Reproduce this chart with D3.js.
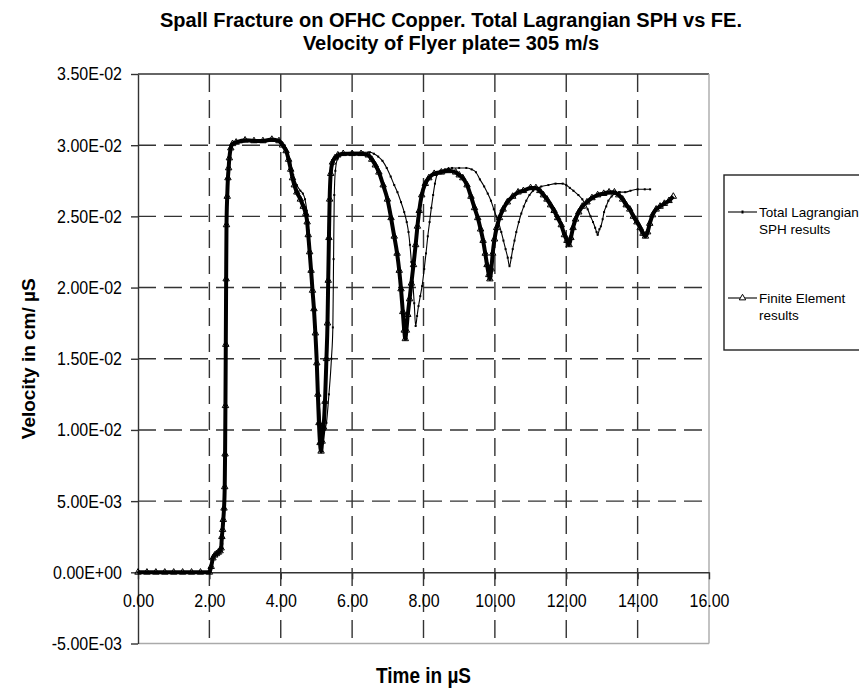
<!DOCTYPE html>
<html>
<head>
<meta charset="utf-8">
<script src="https://cdn.jsdelivr.net/npm/d3@7"></script>
<style>
  body { margin: 0; background: #fff; }
  text { font-family: "Liberation Sans", Arial, sans-serif; fill: #000; }
  .tall { transform-box: fill-box; transform-origin: center; transform: scaleY(1.15); }
</style>
</head>
<body>
<div id="chart-area"></div>
<script>
// titles and labels
const titleLines = ["Spall Fracture on OFHC Copper. Total Lagrangian SPH vs FE.", "Velocity of Flyer plate= 305 m/s"]
const xTitle = "Time in \u00b5S"
const yTitle = "Velocity in cm/ \u00b5S"
const legendLines = [["Total Lagrangian", "SPH results"], ["Finite Element", "results"]]

// ticks
const timeTicks = [0, 2, 4, 6, 8, 10, 12, 14, 16]
const velTicks = [-0.005, 0, 0.005, 0.01, 0.015, 0.02, 0.025, 0.03, 0.035]

// Total Lagrangian SPH (time in uS, velocity in cm/uS)
const sphTime = [0, 0.5, 1.0, 1.5, 2.0, 2.05, 2.1, 2.2, 2.3, 2.36, 2.40, 2.43, 2.45, 2.46, 2.47,
  2.49, 2.52, 2.56, 2.62, 2.7, 2.9, 3.2, 3.5, 3.8, 3.98, 4.08, 4.18, 4.27, 4.35, 4.45, 4.55, 4.62, 4.68, 4.73, 4.78,
  4.83, 4.88, 4.93, 4.98, 5.03, 5.08, 5.13, 5.18, 5.23, 5.28, 5.35, 5.42, 5.46, 5.48, 5.50, 5.53, 5.6, 5.75, 6.0, 6.3,
  6.5, 6.61, 6.73, 6.85, 6.97, 7.08, 7.18, 7.27, 7.37, 7.46, 7.53, 7.58, 7.62, 7.66, 7.70, 7.74, 7.78, 7.82, 7.86, 7.91,
  7.96, 8.02, 8.07, 8.12, 8.17, 8.22, 8.27, 8.32, 8.39, 8.47, 8.6, 8.8, 9.0, 9.2, 9.35, 9.47, 9.58, 9.7, 9.8, 9.89,
  9.97, 10.04, 10.11, 10.18, 10.24, 10.3, 10.36, 10.41, 10.46, 10.5, 10.55, 10.6, 10.67, 10.74, 10.81, 10.88, 10.97, 11.07, 11.2, 11.3,
  11.5, 11.7, 11.9, 12.0, 12.1, 12.2, 12.34, 12.45, 12.52, 12.6, 12.68, 12.75, 12.81, 12.85, 12.88, 12.93, 12.97, 13.02, 13.06, 13.12,
  13.18, 13.27, 13.37, 13.5, 13.65, 13.8, 14.0, 14.2, 14.35]
const sphVel = [0, 0, 0, 0, 0, 0.0003, 0.0009, 0.0012, 0.0014, 0.0020, 0.0040, 0.0070, 0.0150, 0.0191, 0.0230,
  0.0262, 0.0280, 0.0291, 0.0298, 0.0301, 0.0302, 0.0303, 0.0303, 0.0303, 0.0302, 0.0300, 0.0295, 0.0288, 0.0279, 0.0272, 0.0268, 0.0266, 0.0262, 0.0254, 0.0240,
  0.0224, 0.0205, 0.0185, 0.0163, 0.0140, 0.0118, 0.0103, 0.0098, 0.0100, 0.0105, 0.0125, 0.0150, 0.0172, 0.0220, 0.0265, 0.0282, 0.0291, 0.0294, 0.0295, 0.0295,
  0.0295, 0.0294, 0.0292, 0.0289, 0.0284, 0.0278, 0.0272, 0.0267, 0.0260, 0.0253, 0.0246, 0.0239, 0.0230, 0.0218, 0.0204, 0.0189, 0.0173, 0.0180, 0.0187, 0.0194,
  0.0201, 0.0213, 0.0224, 0.0236, 0.0246, 0.0256, 0.0265, 0.0273, 0.0280, 0.0282, 0.0283, 0.0284, 0.0284, 0.0284, 0.0283, 0.0281, 0.0276, 0.0271, 0.0266, 0.0261,
  0.0255, 0.0250, 0.0245, 0.0239, 0.0233, 0.0227, 0.0221, 0.0215, 0.0221, 0.0227, 0.0233, 0.0239, 0.0246, 0.0252, 0.0257, 0.0261, 0.0265, 0.0268, 0.0270, 0.0271,
  0.0272, 0.0273, 0.0273, 0.0272, 0.0270, 0.0268, 0.0265, 0.0262, 0.0259, 0.0255, 0.0250, 0.0246, 0.0242, 0.0239, 0.0237, 0.0241, 0.0243, 0.0248, 0.0253, 0.0257,
  0.0261, 0.0264, 0.0266, 0.0267, 0.0267, 0.0268, 0.0269, 0.0269, 0.0269]

// Finite Element
const feTime = [0, 0.25, 0.5, 0.75, 1.0, 1.25, 1.5, 1.75, 2.0, 2.05, 2.10, 2.15, 2.20, 2.25, 2.30,
  2.33, 2.35, 2.37, 2.39, 2.41, 2.43, 2.44, 2.45, 2.46, 2.47, 2.48, 2.50, 2.52, 2.54, 2.56, 2.60, 2.65, 2.75,
  3.0, 3.25, 3.5, 3.75, 3.95, 4.05, 4.15, 4.22, 4.28, 4.33, 4.38, 4.45, 4.55, 4.63, 4.70,
  4.74, 4.77, 4.81, 4.85, 4.89, 4.93, 4.97, 5.01, 5.04, 5.07, 5.10, 5.13, 5.16, 5.20, 5.24, 5.28,
  5.31, 5.33, 5.35, 5.37, 5.40, 5.45, 5.52, 5.60, 5.75, 6.0, 6.25, 6.45, 6.55, 6.65, 6.75, 6.87, 6.99,
  7.09, 7.18, 7.26, 7.32, 7.37, 7.42, 7.46, 7.49, 7.52, 7.56, 7.61, 7.66, 7.72, 7.78, 7.83, 7.88, 7.95,
  8.05, 8.15, 8.3, 8.5, 8.7, 8.9, 9.0, 9.1, 9.22, 9.33, 9.43, 9.52, 9.60, 9.67, 9.73, 9.78, 9.83, 9.86, 9.90, 9.94, 9.99,
  10.05, 10.13, 10.23, 10.35, 10.5, 10.65, 10.8, 11.0, 11.15, 11.26, 11.36, 11.46, 11.56, 11.66, 11.76, 11.86, 11.95,
  12.02, 12.08, 12.13, 12.19, 12.26, 12.35, 12.45, 12.58, 12.72, 12.88, 13.05, 13.2, 13.35, 13.47, 13.58, 13.68, 13.78, 13.88, 13.98,
  14.07, 14.15, 14.22, 14.28, 14.34, 14.42, 14.52, 14.63, 14.75, 14.88, 15.0]
const feVel = [0, 0, 0, 0, 0, 0, 0, 0, 0, 0.0004, 0.0010, 0.0012, 0.0013, 0.0014, 0.0015,
  0.0017, 0.0025, 0.0030, 0.0037, 0.0045, 0.0060, 0.0083, 0.0117, 0.0160, 0.0206, 0.0244, 0.0264, 0.0277, 0.0284, 0.0291, 0.0298, 0.0301, 0.0302,
  0.03035, 0.0303, 0.0303, 0.0304, 0.0303, 0.0300, 0.0296, 0.0290, 0.0283, 0.0277, 0.0272, 0.0267, 0.0262, 0.0257, 0.0252,
  0.0246, 0.0237, 0.0225, 0.0212, 0.0198, 0.0185, 0.0168, 0.0147, 0.0125, 0.0105, 0.0091, 0.0085, 0.0092, 0.0102, 0.0120, 0.0150,
  0.0175, 0.0205, 0.0235, 0.0262, 0.0280, 0.0288, 0.0291, 0.0293, 0.0294, 0.0294, 0.0294, 0.0293, 0.0290, 0.0286, 0.0281, 0.0272, 0.0262,
  0.0249, 0.0236, 0.0224, 0.0212, 0.0199, 0.0183, 0.0170, 0.0164, 0.0170, 0.0181, 0.0192, 0.0203, 0.0216, 0.0230, 0.0243, 0.0254, 0.0265,
  0.0273, 0.0277, 0.0280, 0.0281, 0.0282, 0.0281, 0.0279, 0.0277, 0.0272, 0.0264, 0.0256, 0.0249, 0.0241, 0.0233, 0.0224, 0.0216, 0.0209, 0.0206, 0.0213, 0.0224, 0.0234,
  0.0242, 0.0249, 0.0255, 0.0260, 0.0264, 0.0267, 0.0268, 0.0270, 0.0270, 0.0268, 0.0265, 0.0262, 0.0258, 0.0254, 0.0249, 0.0244, 0.0237,
  0.0233, 0.0230, 0.0235, 0.0242, 0.0248, 0.0253, 0.0257, 0.0260, 0.0263, 0.0265, 0.0266, 0.0267, 0.0267, 0.0265, 0.0262, 0.0258, 0.0255, 0.0250, 0.0246,
  0.0242, 0.0238, 0.0236, 0.0239, 0.0245, 0.0251, 0.0255, 0.0257, 0.0259, 0.0261, 0.0264]

// margins of the plot area
const MARGIN = { LEFT: 138, RIGHT: 150, TOP: 74, BOTTOM: 44.5 }
const W = 859, H = 688
const WIDTH = W - MARGIN.LEFT - MARGIN.RIGHT
const HEIGHT = H - MARGIN.TOP - MARGIN.BOTTOM

const svg = d3.select("#chart-area").append("svg")
  .attr("width", W)
  .attr("height", H)

const g = svg.append("g")
  .attr("transform", `translate(${MARGIN.LEFT}, ${MARGIN.TOP})`)

const x = d3.scaleLinear().domain([0, 16]).range([0, WIDTH])
const y = d3.scaleLinear().domain([-0.005, 0.035]).range([HEIGHT, 0])

// 3.50E-02 style labels
const fmtE = v => {
  const [m, e] = v.toExponential(2).split("e")
  const n = Number(e)
  return m + "E" + (n < 0 ? "-" : "+") + String(Math.abs(n)).padStart(2, "0")
}

// dashed grid
g.selectAll(".vgrid").data(timeTicks.filter(t => t > 0 && t < 16))
  .enter().append("line")
  .attr("x1", d => x(d)).attr("x2", d => x(d))
  .attr("y1", 0).attr("y2", HEIGHT)
  .attr("stroke", "#333").attr("stroke-width", 1.4)
  .attr("stroke-dasharray", "18,8")

g.selectAll(".hgrid").data(velTicks.filter(v => v > 0 && v < 0.035))
  .enter().append("line")
  .attr("x1", 0).attr("x2", WIDTH)
  .attr("y1", d => y(d)).attr("y2", d => y(d))
  .attr("stroke", "#333").attr("stroke-width", 1.4)
  .attr("stroke-dasharray", "18,8")

// plot area border
g.append("line").attr("x1", 0).attr("x2", WIDTH).attr("y1", 0).attr("y2", 0)
  .attr("stroke", "#333").attr("stroke-width", 1.4)
g.append("line").attr("x1", WIDTH).attr("x2", WIDTH).attr("y1", 0).attr("y2", HEIGHT)
  .attr("stroke", "#aaa").attr("stroke-width", 1.4)
g.append("line").attr("x1", 0).attr("x2", WIDTH).attr("y1", HEIGHT).attr("y2", HEIGHT)
  .attr("stroke", "#aaa").attr("stroke-width", 1.4)

// Y axis
const yAxis = g.append("g")
  .call(d3.axisLeft(y).tickValues(velTicks).tickFormat(fmtE).tickSize(7).tickSizeOuter(0).tickPadding(9))
yAxis.select(".domain").attr("stroke", "#333").attr("stroke-width", 1.4)
yAxis.selectAll(".tick line").attr("stroke", "#333").attr("stroke-width", 1.4)
yAxis.selectAll("text").attr("class", "tall")
  .style("font-family", "'Liberation Sans', Arial, sans-serif").style("font-size", "16px").attr("fill", "#000")

// X axis at zero
const xAxis = g.append("g")
  .attr("transform", `translate(0, ${y(0)})`)
  .call(d3.axisBottom(x).tickValues(timeTicks).tickFormat(d3.format(".2f")).tickSize(7).tickSizeOuter(0).tickPadding(16))
xAxis.select(".domain").attr("stroke", "#333").attr("stroke-width", 1.4)
xAxis.selectAll(".tick line").attr("stroke", "#333").attr("stroke-width", 1.4)
xAxis.selectAll("text").attr("class", "tall")
  .style("font-family", "'Liberation Sans', Arial, sans-serif").style("font-size", "16px").attr("fill", "#000")

// series
const sph = sphTime.map((t, i) => ({ t: t, v: sphVel[i] }))
const fe = feTime.map((t, i) => ({ t: t, v: feVel[i] }))

const line = d3.line()
  .x(d => x(d.t))
  .y(d => y(d.v))
  .curve(d3.curveMonotoneX)

// FE - thick with triangles
g.append("path")
  .datum(fe)
  .attr("d", line)
  .attr("fill", "none")
  .attr("stroke", "#000")
  .attr("stroke-width", 4)

const tri = d3.symbol(d3.symbolTriangle, 18)
g.selectAll(".fe-pt").data(fe)
  .enter().append("path")
  .attr("transform", d => `translate(${x(d.t)}, ${y(d.v)})`)
  .attr("d", tri)
  .attr("fill", "none")
  .attr("stroke", "#000")
  .attr("stroke-width", 1)

// SPH - thin with small marks
g.append("path")
  .datum(sph)
  .attr("d", line)
  .attr("fill", "none")
  .attr("stroke", "#000")
  .attr("stroke-width", 1.1)

g.selectAll(".sph-pt").data(sph)
  .enter().append("rect")
  .attr("x", d => x(d.t) - 1)
  .attr("y", d => y(d.v) - 1)
  .attr("width", 2).attr("height", 2)
  .attr("fill", "#000")

// title
svg.selectAll(".title").data(titleLines)
  .enter().append("text")
  .attr("x", 451)
  .attr("y", (d, i) => 27 + i * 23)
  .attr("text-anchor", "middle")
  .attr("font-size", "20px")
  .attr("font-weight", "bold")
  .text(d => d)

// X label
svg.append("text")
  .attr("class", "tall")
  .attr("x", MARGIN.LEFT + WIDTH / 2)
  .attr("y", 682)
  .attr("text-anchor", "middle")
  .attr("font-size", "19px")
  .attr("font-weight", "bold")
  .text(xTitle)

// Y label
svg.append("text")
  .attr("transform", `translate(35, ${MARGIN.TOP + HEIGHT / 2}) rotate(-90)`)
  .attr("text-anchor", "middle")
  .attr("font-size", "19px")
  .attr("font-weight", "bold")
  .text(yTitle)

// legend
const legend = svg.append("g")
legend.append("rect")
  .attr("x", 724).attr("y", 175)
  .attr("width", 140).attr("height", 175)
  .attr("fill", "#fff")
  .attr("stroke", "#222").attr("stroke-width", 1.4)

const rowY = [212, 298]
rowY.forEach((ry, i) => {
  legend.append("line")
    .attr("x1", 728).attr("x2", 757).attr("y1", ry).attr("y2", ry)
    .attr("stroke", "#000").attr("stroke-width", 1.1)
  if (i === 0) {
    legend.append("rect").attr("x", 741.5).attr("y", ry - 1.5).attr("width", 2).attr("height", 3).attr("fill", "#000")
  } else {
    legend.append("path")
      .attr("transform", `translate(742.5, ${ry})`)
      .attr("d", tri)
      .attr("fill", "#fff").attr("stroke", "#000").attr("stroke-width", 1)
  }
  legendLines[i].forEach((txt, j) => {
    legend.append("text")
      .attr("x", 759)
      .attr("y", ry + 4.8 + j * 16.7)
      .attr("font-size", "13.5px")
      .text(txt)
  })
})
</script>
</body>
</html>
